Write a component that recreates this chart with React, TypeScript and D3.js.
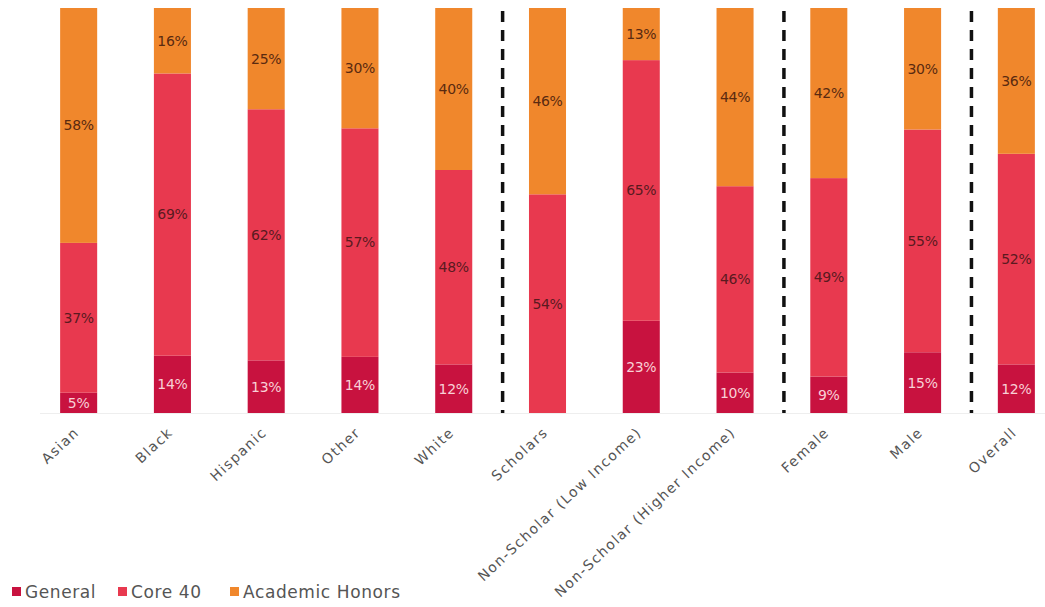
import React from "react";
import * as d3 from "d3";

const categories = [
  "Asian", "Black", "Hispanic", "Other", "White", "Scholars",
  "Non-Scholar (Low Income)", "Non-Scholar (Higher Income)", "Female", "Male", "Overall",
];
const generalVals = [5, 14, 13, 14, 12, 0, 23, 10, 9, 15, 12];
const core40Vals = [37, 69, 62, 57, 48, 54, 65, 46, 49, 55, 52];
const honorsVals = [58, 16, 25, 30, 40, 46, 13, 44, 42, 30, 36];
const seriesNames = ["General", "Core 40", "Academic Honors"];
const seriesColors = ["#c8123f", "#e8394f", "#f0872c"];
const labelColors = ["#f8d0d6", "#5a1a1f", "#5a2a10"];
const separatorsAfter = ["White", "Non-Scholar (Higher Income)", "Male"];

const W = 1045;
const H = 607;

export default function App() {
  const rows = categories.map((c, i) => ({
    cat: c,
    General: generalVals[i],
    "Core 40": core40Vals[i],
    "Academic Honors": honorsVals[i],
  }));
  const stack = d3.stack<any>().keys(seriesNames).offset(d3.stackOffsetExpand);
  const series = stack(rows);

  const x = d3
    .scaleBand<string>()
    .domain(categories)
    .range([32, 1063])
    .paddingInner(0.605)
    .paddingOuter(0.3);
  const y = d3.scaleLinear().domain([0, 1]).range([413, 8]);
  const bw = x.bandwidth();
  const step = x.step();
  const font = "'DejaVu Sans', 'Open Sans', sans-serif";

  return (
    <div style={{ position: "absolute", left: 0, top: 0 }}>
      <svg width={W} height={H} style={{ display: "block", background: "#fff" }}>
        {series.map((s, si) => (
          <g key={s.key}>
            {s.map((d, i) => {
              const h = y(d[0]) - y(d[1]);
              if (h <= 0) return null;
              return (
                <rect
                  key={i}
                  x={x(categories[i])}
                  y={y(d[1])}
                  width={bw}
                  height={h}
                  fill={seriesColors[si]}
                />
              );
            })}
          </g>
        ))}
        {series.map((s, si) => (
          <g key={"l" + s.key}>
            {s.map((d, i) => {
              const v = [generalVals, core40Vals, honorsVals][si][i];
              if (!v) return null;
              return (
                <text
                  key={i}
                  x={(x(categories[i]) as number) + bw / 2}
                  y={(y(d[0]) + y(d[1])) / 2}
                  dy="0.35em"
                  textAnchor="middle"
                  fontFamily={font}
                  fontSize={14}
                  letterSpacing={-0.3}
                  fill={labelColors[si]}
                >
                  {v}%
                </text>
              );
            })}
          </g>
        ))}
        {separatorsAfter.map((c) => {
          const sx = (x(c) as number) + bw + (step - bw) / 2 + 2;
          return (
            <line
              key={c}
              x1={sx}
              x2={sx}
              y1={y(1) + 3}
              y2={y(0)}
              stroke="#111"
              strokeWidth={3.5}
              strokeDasharray="11 8"
            />
          );
        })}
        <line
          x1={40}
          x2={W}
          y1={y(0) + 0.5}
          y2={y(0) + 0.5}
          stroke="#eee"
        />
        {categories.map((c) => {
          const cx = (x(c) as number) + bw / 2 - 2;
          const cy = y(0) + 17;
          return (
            <text
              key={c}
              transform={`translate(${cx},${cy}) rotate(-43)`}
              textAnchor="end"
              dy="0.35em"
              fontFamily={font}
              fontSize={14}
              letterSpacing={1.4}
              fill="#555"
            >
              {c}
            </text>
          );
        })}
        {seriesNames.map((n, i) => {
          const lx = [12, 118, 230][i];
          return (
            <g key={n} transform={`translate(${lx},592)`}>
              <rect x={0} y={-5} width={9} height={9} fill={seriesColors[i]} />
              <text x={13} y={0} dy="0.35em" fontFamily={font} fontSize={17} letterSpacing={0.6} fill="#555">
                {n}
              </text>
            </g>
          );
        })}
      </svg>
    </div>
  );
}
